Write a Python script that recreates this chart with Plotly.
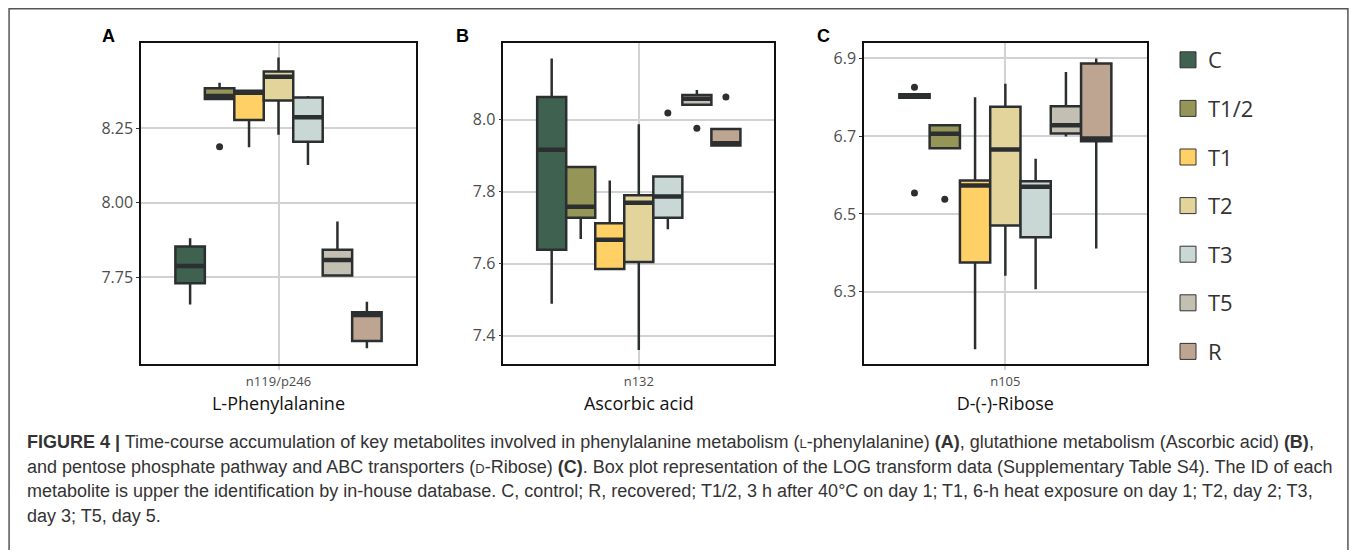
import plotly.graph_objects as go

groups = ["C", "T1/2", "T1", "T2", "T3", "T5", "R"]
colors = ["#3F6150", "#969558", "#FFD066", "#E3D49B", "#C9D8D5", "#C4BFB3", "#BDA592"]

# Panel A: L-Phenylalanine (n119/p246)
a_q1 = [7.730, 8.348, 8.278, 8.343, 8.205, 7.756, 7.536]
a_med = [7.788, 8.358, 8.369, 8.423, 8.287, 7.808, 7.623]
a_q3 = [7.853, 8.384, 8.376, 8.440, 8.353, 7.842, 7.633]
a_lo = [7.659, 8.348, 8.186, 8.228, 8.127, 7.756, 7.512]
a_hi = [7.881, 8.403, 8.376, 8.487, 8.358, 7.937, 7.668]
a_out = [[], [8.188], [], [], [], [], []]

# Panel B: Ascorbic acid (n132)
b_q1 = [7.638, 7.727, 7.585, 7.604, 7.727, 8.041, 7.928]
b_med = [7.916, 7.758, 7.666, 7.769, 7.786, 8.058, 7.934]
b_q3 = [8.063, 7.868, 7.712, 7.790, 7.842, 8.068, 7.974]
b_lo = [7.488, 7.668, 7.585, 7.360, 7.695, 8.041, 7.928]
b_hi = [8.170, 7.868, 7.831, 7.987, 7.842, 8.082, 7.974]
b_out = [[], [], [], [], [8.018], [7.976], [8.063]]

# Panel C: D-(-)-Ribose (n105)
c_q1 = [6.799, 6.669, 6.375, 6.470, 6.440, 6.707, 6.687]
c_med = [6.803, 6.706, 6.573, 6.666, 6.570, 6.728, 6.694]
c_q3 = [6.808, 6.728, 6.586, 6.776, 6.584, 6.777, 6.887]
c_lo = [6.799, 6.669, 6.152, 6.341, 6.306, 6.699, 6.411]
c_hi = [6.808, 6.729, 6.800, 6.835, 6.642, 6.865, 6.900]
c_out = [[6.826, 6.554], [6.538], [], [], [], [], []]

panel_ids = ["n119/p246", "n132", "n105"]
panel_titles = ["L-Phenylalanine", "Ascorbic acid", "D-(-)-Ribose"]
panel_letters = ["A", "B", "C"]
y_ticks = [[7.75, 8.00, 8.25], [7.4, 7.6, 7.8, 8.0], [6.3, 6.5, 6.7, 6.9]]
y_ticktext = [["7.75", "8.00", "8.25"], ["7.4", "7.6", "7.8", "8.0"], ["6.3", "6.5", "6.7", "6.9"]]

caption_lines = [
    "<b>FIGURE 4 |</b> Time-course accumulation of key metabolites involved in phenylalanine metabolism "
    "(<span style='font-size:13px'>L</span>-phenylalanine) <b>(A)</b>, glutathione metabolism (Ascorbic acid) <b>(B)</b>,",
    "and pentose phosphate pathway and ABC transporters (<span style='font-size:13px'>D</span>-Ribose) <b>(C)</b>. "
    "Box plot representation of the LOG transform data (Supplementary Table S4). The ID of each",
    "metabolite is upper the identification by in-house database. C, control; R, recovered; T1/2, 3 h after "
    "40°C on day 1; T1, 6-h heat exposure on day 1; T2, day 2; T3,",
    "day 3; T5, day 5.",
]

# page has an 8px body margin; figure occupies 8..1349 x 8..550 of the window
OFF = 8
W, H = 1341, 542


def PX(x):
    return (x - OFF) / W


def PY(y):
    return 1 - (y - OFF) / H


DARK = "#2b2f30"
GRID = "#d2d2d2"
AXFONT = "Open Sans"

panels = [
    (a_q1, a_med, a_q3, a_lo, a_hi, a_out),
    (b_q1, b_med, b_q3, b_lo, b_hi, b_out),
    (c_q1, c_med, c_q3, c_lo, c_hi, c_out),
]
x_dom_px = [(141, 416), (503.3, 774.3), (864, 1146.7)]
y_dom_px = (43.3, 364.3)
y_ranges = [[7.458, 8.535], [7.320, 8.212], [6.113, 6.939]]

fig = go.Figure()
n = len(groups)
dodge = 0.9
w = dodge / n

for p, (q1, med, q3, lo, hi, out) in enumerate(panels):
    xa = "x" if p == 0 else f"x{p+1}"
    ya = "y" if p == 0 else f"y{p+1}"
    for i in range(n):
        pos = 1 + (i - (n - 1) / 2) * w
        fig.add_trace(go.Box(
            x=[pos], q1=[q1[i]], median=[med[i]], q3=[q3[i]],
            lowerfence=[lo[i]], upperfence=[hi[i]],
            width=w, fillcolor=colors[i], line=dict(color=DARK, width=2.5),
            whiskerwidth=0, boxpoints=False, showlegend=False,
            xaxis=xa, yaxis=ya, hoverinfo="skip",
        ))
        fig.add_trace(go.Scatter(
            x=[pos - w / 2, pos + w / 2], y=[med[i], med[i]], mode="lines",
            line=dict(color=DARK, width=4.5), showlegend=False,
            xaxis=xa, yaxis=ya, hoverinfo="skip",
        ))
        if out[i]:
            fig.add_trace(go.Scatter(
                x=[pos] * len(out[i]), y=out[i], mode="markers",
                marker=dict(color=DARK, size=7), showlegend=False,
                xaxis=xa, yaxis=ya, hoverinfo="skip",
            ))

# legend entries
for i, g in enumerate(groups):
    fig.add_trace(go.Scatter(
        x=[None], y=[None], mode="markers", name=g, legendgroup=g,
        marker=dict(symbol="square", size=16, color=colors[i], line=dict(color="#333333", width=1)),
    ))

layout = dict(
    width=W, height=H, margin=dict(l=0, r=0, t=0, b=0),
    paper_bgcolor="white", plot_bgcolor="white",
    showlegend=True,
    legend=dict(x=PX(1168), y=PY(39), xanchor="left", yanchor="top",
                font=dict(family=AXFONT, size=22, color="#333333"),
                traceorder="grouped", tracegroupgap=17, itemsizing="trace",
                bgcolor="rgba(0,0,0,0)"),
)

for p in range(3):
    xk = "xaxis" if p == 0 else f"xaxis{p+1}"
    yk = "yaxis" if p == 0 else f"yaxis{p+1}"
    x0, x1 = x_dom_px[p]
    layout[xk] = dict(
        domain=[PX(x0), PX(x1)], range=[0.4, 1.6],
        anchor="y" if p == 0 else f"y{p+1}",
        tickvals=[1], ticktext=[panel_ids[p]],
        tickfont=dict(family=AXFONT, size=13, color="#4d4d4d"),
        showgrid=True, gridcolor=GRID, gridwidth=2, zeroline=False,
        showline=True, mirror=True, linecolor="#111111", linewidth=1.5,
        ticks="outside", ticklen=4, tickcolor=GRID, tickwidth=2,
        title=dict(text=panel_titles[p], font=dict(family=AXFONT, size=18, color="#111111"), standoff=9),
    )
    layout[yk] = dict(
        domain=[PY(y_dom_px[1]), PY(y_dom_px[0])], range=y_ranges[p],
        anchor="x" if p == 0 else f"x{p+1}",
        tickvals=y_ticks[p], ticktext=y_ticktext[p],
        tickfont=dict(family=AXFONT, size=16, color="#4d4d4d"),
        showgrid=True, gridcolor=GRID, gridwidth=2, zeroline=False,
        showline=True, mirror=True, linecolor="#111111", linewidth=1.5,
        ticks="outside", ticklen=3, tickcolor="#333333",
    )

fig.update_layout(**layout)

# panel letters
letter_x = [109, 462, 823]
for p in range(3):
    fig.add_annotation(text=f"<b>{panel_letters[p]}</b>", xref="paper", yref="paper",
                       x=PX(letter_x[p]), y=PY(36), xanchor="center", yanchor="middle",
                       showarrow=False, font=dict(family="Liberation Sans", size=18, color="black"))

# caption
cap_y = [442, 466.5, 491, 515.5]
for k, line in enumerate(caption_lines):
    fig.add_annotation(text=line, xref="paper", yref="paper", x=PX(25), y=PY(cap_y[k]),
                       xanchor="left", yanchor="middle", showarrow=False, align="left",
                       font=dict(family="Liberation Sans", size=18, color="#333333"))

# outer figure border
fig.add_shape(type="rect", xref="paper", yref="paper",
              x0=0.0008, x1=0.9992, y0=-0.05, y1=PY(8.8),
              line=dict(color="#555555", width=1.5), fillcolor="rgba(0,0,0,0)", layer="below")

fig.write_html("out.html")
